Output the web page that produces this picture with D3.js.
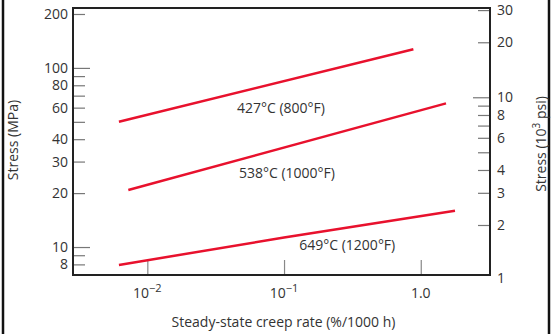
<!DOCTYPE html>
<html>
<head>
<meta charset="utf-8">
<script src="https://cdn.jsdelivr.net/npm/d3@7"></script>
<style>
  body { margin: 0; background: #fff; }
  text { font-family: "Open Sans", "Noto Sans", sans-serif; fill: #333; }
</style>
</head>
<body>
<svg id="creep" width="553" height="334"></svg>
<script>
// creep rate (%/1000 h) vs stress (MPa)
const series = [
  { label: '427°C (800°F)', rate: [0.0062, 0.883], stress: [50.1, 127] },
  { label: '538°C (1000°F)', rate: [0.00726, 1.53], stress: [20.8, 63.4] },
  { label: '649°C (1200°F)', rate: [0.0062, 0.1, 1.78], stress: [7.94, 11.3, 15.95] }
];
const labelPos = [
  { rate: 0.095, stress: 60 },
  { rate: 0.105, stress: 26 },
  { rate: 0.29, stress: 10.3 }
];
const xTicks = [0.01, 0.1, 1];
const xTickLabels = ['10', '10', '1.0'];
const xTickExp = ['\u22122', '\u22121', ''];
const mpaTicks = [200, 100, 90, 80, 70, 60, 50, 40, 30, 20, 10, 9, 8];
const mpaLabels = [200, 100, 80, 60, 40, 30, 20, 10, 8];
const psiTicks = [30, 20, 10, 9, 8, 7, 6, 5, 4, 3, 2];
const psiLabels = [30, 20, 10, 8, 6, 4, 3, 2, 1];

const svg = d3.select('#creep');
const margin = { top: 8, right: 63, bottom: 59, left: 73 };
const width = +svg.attr('width');
const height = +svg.attr('height');
const innerWidth = width - margin.left - margin.right;
const innerHeight = height - margin.top - margin.bottom;

const xScale = d3.scaleLog().domain([0.00286, 3.21]).range([0, innerWidth]);
const yScale = d3.scaleLog().domain([6.98, 216]).range([innerHeight, 0]);
const yRight = d3.scaleLog().domain([1.065, 30.8]).range([innerHeight, 0]);

// outer frame lines
svg.append('line').attr('x1', 3).attr('x2', 3).attr('y1', 0).attr('y2', height)
  .attr('stroke', '#111').attr('stroke-width', 2.5);
svg.append('line').attr('x1', 549).attr('x2', 549).attr('y1', 0).attr('y2', height)
  .attr('stroke', '#111').attr('stroke-width', 2.5);

const g = svg.append('g')
  .attr('transform', `translate(${margin.left},${margin.top})`);

// left axis (MPa), ticks point inward
const yAxisG = g.append('g').call(d3.axisRight(yScale)
  .tickValues(mpaTicks).tickSize(12).tickFormat(''));
yAxisG.select('.domain').remove();
yAxisG.selectAll('.tick text').remove();
yAxisG.selectAll('.tick line')
  .attr('stroke', '#777')
  .attr('stroke-width', 1.2)
  .attr('x2', d => (d === 100 || d === 10) ? 17 : 12);

g.selectAll('.mpa-label').data(mpaLabels)
  .enter().append('text')
    .attr('class', 'mpa-label')
    .attr('x', -5)
    .attr('y', d => yScale(d))
    .attr('dy', '0.36em')
    .attr('text-anchor', 'end')
    .attr('font-size', 14)
    .text(d => d);

g.append('text')
  .attr('transform', 'rotate(-90)')
  .attr('x', -132)
  .attr('y', -55)
  .attr('text-anchor', 'middle')
  .attr('font-size', 14)
  .text('Stress (MPa)');

// right axis (10^3 psi), ticks point inward
const yAxisRG = g.append('g').call(d3.axisLeft(yRight)
  .tickValues(psiTicks).tickSize(12).tickFormat(''))
  .attr('transform', `translate(${innerWidth},0)`);
yAxisRG.select('.domain').remove();
yAxisRG.selectAll('.tick text').remove();
yAxisRG.selectAll('.tick line')
  .attr('stroke', '#777')
  .attr('stroke-width', 1.2)
  .attr('x2', d => d === 10 ? -17 : -12);

g.selectAll('.psi-label').data(psiLabels)
  .enter().append('text')
    .attr('class', 'psi-label')
    .attr('x', innerWidth + 7)
    .attr('y', d => Math.min(yRight(d), innerHeight + 3))
    .attr('dy', '0.36em')
    .attr('font-size', 14)
    .text(d => d);

const rTitle = g.append('text')
  .attr('transform', 'rotate(-90)')
  .attr('x', -136)
  .attr('y', innerWidth + 56)
  .attr('text-anchor', 'middle')
  .attr('font-size', 14);
rTitle.append('tspan').text('Stress (10');
rTitle.append('tspan').attr('dy', -6).attr('font-size', 10).text('3');
rTitle.append('tspan').attr('dy', 6).text(' psi)');

// bottom axis, ticks point up
const xAxisG = g.append('g').call(d3.axisTop(xScale)
  .tickValues(xTicks).tickSize(15).tickFormat(''))
  .attr('transform', `translate(0,${innerHeight})`);
xAxisG.select('.domain').remove();
xAxisG.selectAll('.tick text').remove();
xAxisG.selectAll('.tick line').attr('stroke', '#888').attr('stroke-width', 1.2);

xTicks.forEach((t, i) => {
  const lbl = g.append('text')
    .attr('x', xScale(t))
    .attr('y', innerHeight + 23)
    .attr('text-anchor', 'middle')
    .attr('font-size', 14);
  lbl.append('tspan').text(xTickLabels[i]);
  if (xTickExp[i]) {
    lbl.append('tspan').attr('dy', -6).attr('font-size', 11).text(xTickExp[i]);
  }
});

g.append('text')
  .attr('x', innerWidth / 2 + 2)
  .attr('y', innerHeight + 52)
  .attr('text-anchor', 'middle')
  .attr('font-size', 14)
  .text('Steady-state creep rate (%/1000 h)');

// plot frame
g.append('rect')
  .attr('width', innerWidth)
  .attr('height', innerHeight)
  .attr('fill', 'none')
  .attr('stroke', '#222')
  .attr('stroke-width', 2);

// creep lines
const line = d3.line()
  .x(d => xScale(d[0]))
  .y(d => yScale(d[1]));

series.forEach((s, i) => {
  g.append('path')
    .datum(d3.zip(s.rate, s.stress))
    .attr('d', line)
    .attr('fill', 'none')
    .attr('stroke', '#e8112d')
    .attr('stroke-width', 2.5);
  g.append('text')
    .attr('x', xScale(labelPos[i].rate))
    .attr('y', yScale(labelPos[i].stress))
    .attr('dy', '0.35em')
    .attr('text-anchor', 'middle')
    .attr('font-size', 14)
    .text(s.label);
});
</script>
</body>
</html>
